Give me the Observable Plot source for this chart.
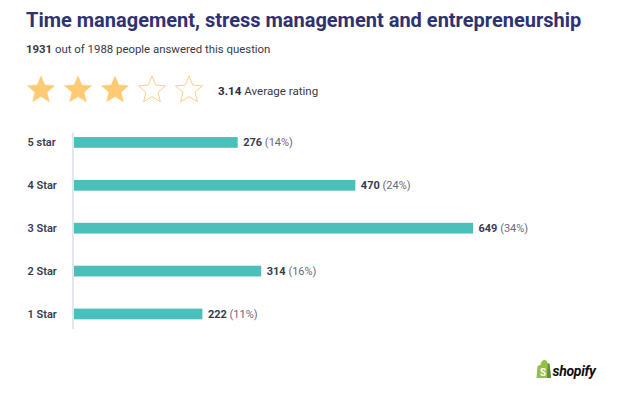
<!DOCTYPE html>
<html>
<head>
<meta charset="utf-8">
<script src="https://cdn.jsdelivr.net/npm/d3@7"></script>
<script src="https://cdn.jsdelivr.net/npm/@observablehq/plot@0.6"></script>
<style>
  html, body { margin: 0; padding: 0; background: #fff; }
  body { width: 622px; height: 395px; position: relative; overflow: hidden; font-family: Roboto, "Noto Sans", sans-serif; }
  #hdr { position: absolute; left: 0; top: 0; }
  #chart { position: absolute; left: 0; top: 115px; }
  #logo { position: absolute; left: 0; top: 350px; }
</style>
</head>
<body>
<svg id="hdr" width="622" height="115"></svg>
<div id="chart"></div>
<svg id="logo" width="622" height="45"></svg>
<script>
// ---- data ----
const title = "Time management, stress management and entrepreneurship";
const answered = 1931;
const totalPeople = 1988;
const averageRating = 3.14;
const starCount = 5;
const categories = ["5 star", "4 Star", "3 Star", "2 Star", "1 Star"];
const counts = [276, 470, 649, 314, 222];
const percents = [14, 24, 34, 16, 11];
const brand = "shopify";

const rows = categories.map((c, i) => ({ cat: c, count: counts[i], pct: percents[i] }));
const FONT = "Roboto, 'Noto Sans', sans-serif";
const NS = "http://www.w3.org/2000/svg";

// ---- header ----
const hdr = d3.select("#hdr");
hdr.append("text").attr("x", 26).attr("y", 26.7)
  .attr("font-family", FONT).attr("font-size", 20).attr("font-weight", 700)
  .attr("fill", "#2f3270").text(title);
const sub = hdr.append("text").attr("x", 26).attr("y", 53.3)
  .attr("font-family", FONT).attr("font-size", 11.4).attr("fill", "#3a3a44");
sub.append("tspan").attr("font-weight", 700).text(answered);
sub.append("tspan").text(` out of ${totalPeople} people answered this question`);

function starPoints(cx, cy, R) {
  const r = R * 0.45, pts = [];
  for (let k = 0; k < 10; k++) {
    const a = -Math.PI / 2 + k * Math.PI / 5;
    const rr = k % 2 === 0 ? R : r;
    pts.push([cx + rr * Math.cos(a), cy + rr * Math.sin(a)]);
  }
  return pts.map(p => p.join(",")).join(" ");
}
const filled = Math.floor(averageRating);
for (let i = 0; i < starCount; i++) {
  const cx = 41 + i * 37;
  const on = i < filled;
  hdr.append("polygon").attr("points", starPoints(cx, 90.2, 14.2))
    .attr("fill", on ? "#fecb74" : "none")
    .attr("stroke", on ? "#fecb74" : "#fdd08a")
    .attr("stroke-width", on ? 0.5 : 1)
    .attr("stroke-linejoin", "round");
}
const rt = hdr.append("text").attr("x", 218).attr("y", 95)
  .attr("font-family", FONT).attr("font-size", 11.6).attr("fill", "#3a3a44");
rt.append("tspan").attr("font-weight", 700).attr("fill", "#2c2c3c").text(averageRating.toFixed(2));
rt.append("tspan").text(" Average rating");

// ---- chart ----
const chart = Plot.plot({
  width: 622,
  height: 235,
  marginLeft: 73,
  marginRight: 149,
  marginTop: 6,
  marginBottom: 14.6,
  style: { fontFamily: FONT, background: "transparent", overflow: "visible" },
  x: { domain: [0, 34], axis: null },
  y: { domain: categories, paddingInner: 0.75, paddingOuter: 0.375, round: false, label: null, axis: null },
  marks: [
    Plot.barX(rows, { x: "pct", y: "cat", fill: "#4bbfba" }),
    Plot.ruleX([0], { stroke: "#e4e4ee", strokeWidth: 2, insetTop: 11.5, insetBottom: 6.4, dx: -0.5 }),
    Plot.axisY({ tickSize: 0, tickPadding: 0, textAnchor: "start", dx: -46, fontSize: 11, fontWeight: 600, fill: "#3b3b50", label: null }),
    Plot.text(rows, { x: "pct", y: "cat", text: d => String(d.count), dx: 5, textAnchor: "start", fontSize: 11, fill: "#3a3a50" })
  ]
});
document.getElementById("chart").appendChild(chart);

// split value labels into bold count + lighter percent
d3.select(chart).selectAll('g[aria-label="text"] text').each(function () {
  const t = this.textContent;
  const row = rows.find(r => String(r.count) === t);
  if (!row) return;
  this.textContent = "";
  const a = document.createElementNS(NS, "tspan");
  a.setAttribute("font-weight", "700");
  a.textContent = row.count;
  const b = document.createElementNS(NS, "tspan");
  b.setAttribute("fill", "#6a6a78");
  b.textContent = ` (${row.pct}%)`;
  this.appendChild(a); this.appendChild(b);
});

// ---- logo ----
const logo = d3.select("#logo");
logo.append("path")
  .attr("d", "M537.5,16 L540.5,14.8 C541,11.5 542.8,10 544.5,10 C546.3,10 547.5,11.5 547.8,13.5 L549.5,13.8 L551,28 L536.5,28 Z")
  .attr("fill", "#95bf47");
logo.append("path")
  .attr("d", "M547.8,13.5 L549.5,13.8 L551,28 L547,28 Z")
  .attr("fill", "#5e8e3e");
logo.append("text").attr("x", 543).attr("y", 25.8).attr("text-anchor", "middle")
  .attr("font-family", FONT).attr("font-size", 10).attr("font-weight", 700).attr("fill", "#fff").text("S");
logo.append("text").attr("x", 552.5).attr("y", 25.5)
  .attr("font-family", FONT).attr("font-size", 14).attr("font-weight", 700).attr("font-style", "italic")
  .attr("letter-spacing", -0.3).attr("fill", "#111").text(brand);
</script>
</body>
</html>
